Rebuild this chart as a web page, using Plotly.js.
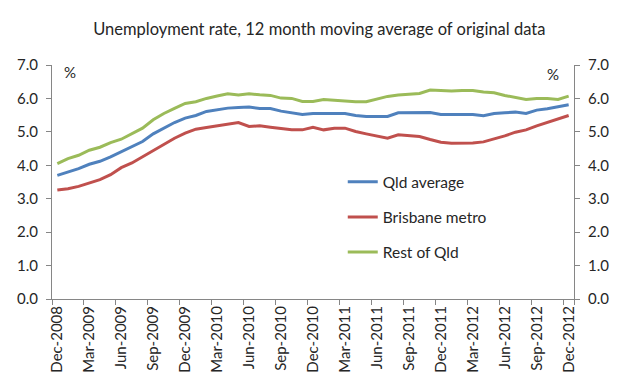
<!DOCTYPE html>
<html>
<head>
<meta charset="utf-8">
<script src="https://cdn.plot.ly/plotly-3.0.1.min.js"></script>
<style>html,body{margin:0;padding:0;background:#fff;}#chart{width:639px;height:390px;}</style>
</head>
<body>
<div id="chart"></div>
<script>
// Monthly categories Dec-2008 .. Dec-2012
const months = ["Dec-2008","Jan-2009","Feb-2009","Mar-2009","Apr-2009","May-2009","Jun-2009","Jul-2009","Aug-2009","Sep-2009","Oct-2009","Nov-2009",
  "Dec-2009","Jan-2010","Feb-2010","Mar-2010","Apr-2010","May-2010","Jun-2010","Jul-2010","Aug-2010","Sep-2010","Oct-2010","Nov-2010",
  "Dec-2010","Jan-2011","Feb-2011","Mar-2011","Apr-2011","May-2011","Jun-2011","Jul-2011","Aug-2011","Sep-2011","Oct-2011","Nov-2011",
  "Dec-2011","Jan-2012","Feb-2012","Mar-2012","Apr-2012","May-2012","Jun-2012","Jul-2012","Aug-2012","Sep-2012","Oct-2012","Nov-2012",
  "Dec-2012"];
const tickLabels = ["Dec-2008","Mar-2009","Jun-2009","Sep-2009","Dec-2009","Mar-2010","Jun-2010","Sep-2010","Dec-2010",
  "Mar-2011","Jun-2011","Sep-2011","Dec-2011","Mar-2012","Jun-2012","Sep-2012","Dec-2012"];
const qldAverage = [3.70,3.80,3.90,4.03,4.12,4.25,4.40,4.56,4.71,4.94,5.11,5.28,
  5.41,5.49,5.61,5.67,5.71,5.73,5.74,5.70,5.70,5.62,5.57,5.52,
  5.55,5.55,5.55,5.55,5.49,5.46,5.46,5.46,5.57,5.57,5.59,5.58,
  5.52,5.52,5.52,5.52,5.48,5.55,5.57,5.59,5.55,5.65,5.69,5.74,
  5.81];
const brisbaneMetro = [3.26,3.30,3.37,3.46,3.57,3.72,3.93,4.07,4.25,4.43,4.61,4.81,
  4.96,5.08,5.13,5.18,5.23,5.28,5.16,5.18,5.14,5.11,5.06,5.06,
  5.14,5.06,5.11,5.11,5.01,4.94,4.88,4.81,4.91,4.89,4.86,4.77,
  4.69,4.66,4.66,4.67,4.70,4.78,4.88,4.99,5.06,5.18,5.29,5.40,
  5.49];
const restOfQld = [4.05,4.20,4.30,4.45,4.54,4.68,4.78,4.94,5.11,5.36,5.55,5.70,
  5.85,5.90,6.00,6.07,6.14,6.10,6.14,6.11,6.09,6.01,6.00,5.91,
  5.91,5.97,5.95,5.91,5.90,5.90,5.98,6.06,6.10,6.12,6.15,6.25,
  6.24,6.22,6.24,6.24,6.19,6.17,6.09,6.02,5.97,6.00,6.00,5.97,
  6.07];
const yTicks = [0,1,2,3,4,5,6,7];

const FONT = "Lato, 'Open Sans', sans-serif";
const axisGrey = "#868686";
const textCol = "#262626";

const series = [
  {name: "Qld average", y: qldAverage, color: "#4F81BD"},
  {name: "Brisbane metro", y: brisbaneMetro, color: "#C0504D"},
  {name: "Rest of Qld", y: restOfQld, color: "#9BBB59"}
];
const traces = series.map((s, i) => ({
  type: "scatter", mode: "lines", x: months, y: s.y, name: s.name,
  legendgroup: "g" + i,
  line: {color: s.color, width: 3},
  hoverinfo: "skip"
}));
// hidden copy on right axis so it is drawn
traces.push({type: "scatter", mode: "lines", x: months, y: qldAverage, yaxis: "y2",
  showlegend: false, line: {color: "rgba(0,0,0,0)", width: 0}, hoverinfo: "skip"});

const yCommon = {
  range: [0, 7], tickvals: yTicks, tickformat: ".1f",
  showline: true, linecolor: axisGrey, linewidth: 1,
  ticks: "outside", ticklen: 5, tickcolor: axisGrey,
  ticklabelstandoff: 5,
  showgrid: false, zeroline: false,
  tickfont: {family: FONT, size: 15, color: textCol}
};

const layout = {
  width: 639, height: 390,
  margin: {l: 52, r: 65, t: 65, b: 91},
  paper_bgcolor: "#fff", plot_bgcolor: "#fff",
  font: {family: FONT, color: textCol},
  title: {text: "Unemployment rate, 12 month moving average of original data",
    font: {family: FONT, size: 16.5, color: textCol},
    x: 0.512, xanchor: "center", xref: "paper", y: 1 - 29/390, yanchor: "middle", yref: "container"},
  xaxis: {
    type: "category", range: [-0.5, months.length - 0.5],
    tickmode: "array", tickvals: tickLabels, ticktext: tickLabels,
    tickson: "boundaries", tickangle: -90,
    showline: true, linecolor: axisGrey, linewidth: 1,
    ticks: "outside", ticklen: 5, tickcolor: axisGrey,
    showgrid: false, zeroline: false,
    tickfont: {family: FONT, size: 15, color: textCol}
  },
  yaxis: Object.assign({}, yCommon, {side: "left"}),
  yaxis2: Object.assign({}, yCommon, {side: "right", overlaying: "y"}),
  showlegend: true,
  legend: {
    x: 0.557, xanchor: "left", y: 0.572, yanchor: "top",
    bgcolor: "rgba(0,0,0,0)", borderwidth: 0,
    traceorder: "grouped", tracegroupgap: 12,
    font: {family: FONT, size: 15.5, color: textCol}
  },
  annotations: [
    {text: "%", xref: "paper", yref: "paper", x: 0.02, y: 0.97, xanchor: "left", yanchor: "middle",
      showarrow: false, font: {family: FONT, size: 15, color: textCol}},
    {text: "%", xref: "paper", yref: "paper", x: 0.975, y: 0.96, xanchor: "right", yanchor: "middle",
      showarrow: false, font: {family: FONT, size: 15, color: textCol}}
  ]
};

Plotly.newPlot("chart", traces, layout, {displayModeBar: false, staticPlot: true});
</script>
</body>
</html>
